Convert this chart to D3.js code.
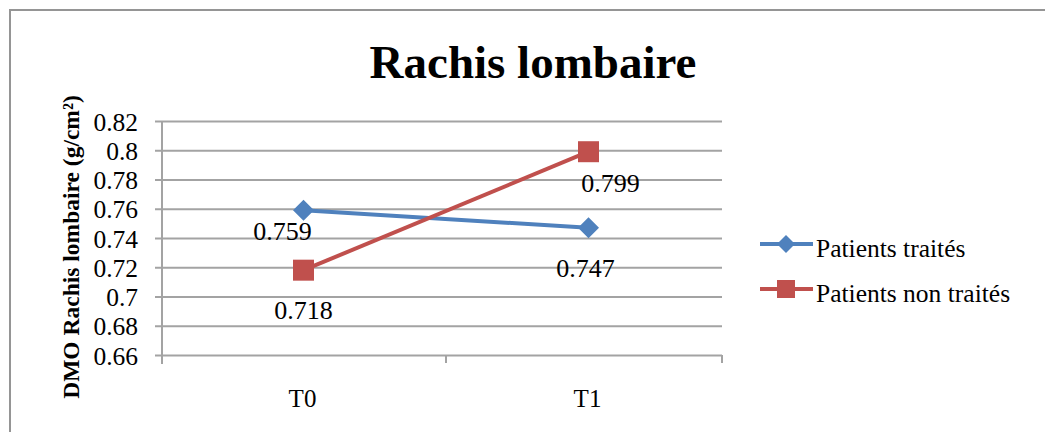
<!DOCTYPE html>
<html>
<head>
<meta charset="utf-8">
<script src="https://cdn.jsdelivr.net/npm/d3@7"></script>
<style>
  html, body { margin: 0; padding: 0; background: #fff; }
  svg { display: block; }
</style>
</head>
<body>
<svg id="chart" width="1045" height="432"></svg>
<script>
// Data
const categories = ["T0", "T1"];
const seriesNames = ["Patients traités", "Patients non traités"];
const treatedValues = [0.759, 0.747];
const untreatedValues = [0.718, 0.799];
const yTicks = [0.66, 0.68, 0.7, 0.72, 0.74, 0.76, 0.78, 0.8, 0.82];
const yTickLabels = ["0.66", "0.68", "0.7", "0.72", "0.74", "0.76", "0.78", "0.8", "0.82"];

const FONT = "'Liberation Serif', 'Times New Roman', 'DejaVu Serif', serif";
const svg = d3.select("#chart");
const W = 1045, H = 432;

// Outer chart frame
svg.append("rect")
  .attr("x", 10).attr("y", 10)
  .attr("width", W + 10).attr("height", H + 10)
  .attr("fill", "#fff").attr("stroke", "#959595").attr("stroke-width", 2);

const plot = { left: 162, right: 722, top: 121, bottom: 355 };

const x = d3.scaleBand().domain(categories).range([161, 731]);
const y = d3.scaleLinear().domain([0.66, 0.82]).range([plot.bottom, plot.top]);

const gridColor = "#a3a3a3";

// Horizontal gridlines with left ticks
const yAxis = d3.axisLeft(y)
  .tickValues(yTicks)
  .tickFormat((d, i) => yTickLabels[i])
  .tickSize(-(plot.right - plot.left))
  .tickPadding(24);
const gy = svg.append("g").attr("transform", `translate(${plot.left},0)`).call(yAxis);
gy.select(".domain").remove();
gy.selectAll(".tick line")
  .attr("x1", -7)
  .attr("stroke", gridColor).attr("stroke-width", 2);
gy.selectAll(".tick text")
  .style("font-family", FONT)
  .style("font-size", "25.5px")
  .attr("dy", "0.36em")
  .attr("fill", "#000");

// Vertical axis line
svg.append("line")
  .attr("x1", plot.left).attr("x2", plot.left)
  .attr("y1", plot.top).attr("y2", plot.bottom + 9)
  .attr("stroke", gridColor).attr("stroke-width", 2);

// Category axis ticks between and after the categories
svg.append("line")
  .attr("x1", x(categories[1])).attr("x2", x(categories[1]))
  .attr("y1", plot.bottom).attr("y2", plot.bottom + 8)
  .attr("stroke", gridColor).attr("stroke-width", 2);
svg.append("line")
  .attr("x1", plot.right).attr("x2", plot.right)
  .attr("y1", plot.bottom).attr("y2", plot.bottom + 8)
  .attr("stroke", gridColor).attr("stroke-width", 2);

const cx = c => x(c) + x.bandwidth() / 2;

svg.selectAll(".cat-label").data(categories).join("text")
  .attr("class", "cat-label")
  .attr("x", d => cx(d) - 1)
  .attr("y", 407)
  .attr("text-anchor", "middle")
  .style("font-family", FONT)
  .style("font-size", "25px")
  .text(d => d);

// Title
svg.append("text")
  .attr("x", 533).attr("y", 78)
  .attr("text-anchor", "middle")
  .style("font-family", FONT)
  .style("font-size", "47px").style("font-weight", "bold")
  .text("Rachis lombaire");

// Y-axis title
svg.append("text")
  .attr("transform", `translate(79,247) rotate(-90)`)
  .attr("text-anchor", "middle")
  .style("font-family", FONT)
  .style("font-size", "23.5px").style("font-weight", "bold")
  .text("DMO Rachis lombaire (g/cm²)");

const line = d3.line().x(d => cx(d.c)).y(d => y(d.v));

const series = [
  { name: seriesNames[0], values: treatedValues, color: "#4f81bd", marker: "diamond",
    labelDx: [-21, -3], labelDy: [30, 49] },
  { name: seriesNames[1], values: untreatedValues, color: "#c0504d", marker: "square",
    labelDx: [0, 22], labelDy: [49, 40] }
];

// Marker shapes: side/diagonal in pixels
const markerPath = (kind, px) => kind === "diamond"
  ? d3.symbol().type(d3.symbolDiamond2).size(Math.pow(px / 2 / 0.62625, 2))()
  : d3.symbol().type(d3.symbolSquare).size(px * px)();

series.forEach(s => {
  const pts = categories.map((c, i) => ({ c, v: s.values[i] }));
  svg.append("path").datum(pts)
    .attr("d", line)
    .attr("fill", "none").attr("stroke", s.color).attr("stroke-width", 4);

  svg.selectAll(null).data(pts).join("path")
    .attr("transform", d => `translate(${cx(d.c)},${y(d.v)})`)
    .attr("d", markerPath(s.marker, 21))
    .attr("fill", s.color);

  svg.selectAll(null).data(pts).join("text")
    .attr("x", (d, i) => cx(d.c) + s.labelDx[i])
    .attr("y", (d, i) => y(d.v) + s.labelDy[i])
    .attr("text-anchor", "middle")
    .style("font-family", FONT)
    .style("font-size", "26px")
    .text(d => d.v.toFixed(3));
});

// Legend
const legend = svg.append("g");
series.forEach((s, i) => {
  const ly = 244 + i * 45;
  legend.append("line")
    .attr("x1", 760).attr("x2", 813)
    .attr("y1", ly).attr("y2", ly)
    .attr("stroke", s.color).attr("stroke-width", 4);
  legend.append("path")
    .attr("transform", `translate(786,${ly})`)
    .attr("d", markerPath(s.marker, 18))
    .attr("fill", s.color);
  legend.append("text")
    .attr("x", 816).attr("y", ly + 13)
    .style("font-family", FONT)
    .style("font-size", "25.5px")
    .text(s.name);
});
</script>
</body>
</html>
